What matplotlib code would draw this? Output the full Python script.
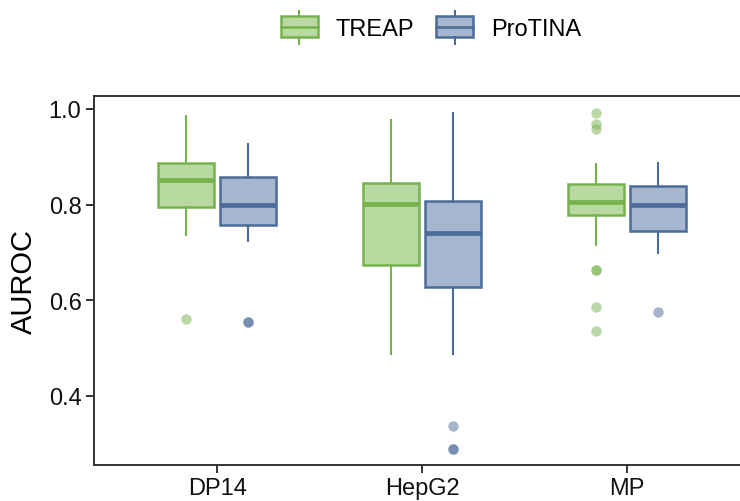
import numpy as np
import matplotlib.pyplot as plt
from matplotlib.legend_handler import HandlerBase
from matplotlib.patches import Rectangle
from matplotlib.lines import Line2D

plt.rcParams['font.family'] = ['Liberation Sans', 'DejaVu Sans']

# data (AUROC box summaries)
datasets = ['DP14', 'HepG2', 'MP']
methods = ['TREAP', 'ProTINA']

treap_whislo = [0.736, 0.487, 0.716]
treap_q1 = [0.795, 0.674, 0.778]
treap_med = [0.851, 0.802, 0.806]
treap_q3 = [0.887, 0.846, 0.842]
treap_whishi = [0.986, 0.976, 0.885]
treap_fliers = [[0.560], [], [0.992, 0.969, 0.958, 0.662, 0.662, 0.585, 0.536]]

protina_whislo = [0.723, 0.488, 0.698]
protina_q1 = [0.758, 0.628, 0.744]
protina_med = [0.800, 0.740, 0.799]
protina_q3 = [0.857, 0.807, 0.839]
protina_whishi = [0.927, 0.991, 0.886]
protina_fliers = [[0.555, 0.555], [0.337, 0.288, 0.288], [0.575]]

edge_colors = ['#76b24e', '#4b6b98']
fill_colors = ['#b8d99f', '#a6b6ce']


def make_stats(lo, q1, med, q3, hi, fl):
    return [dict(whislo=a, q1=b, med=c, q3=d, whishi=e, fliers=f)
            for a, b, c, d, e, f in zip(lo, q1, med, q3, hi, fl)]


stats = [
    make_stats(treap_whislo, treap_q1, treap_med, treap_q3, treap_whishi, treap_fliers),
    make_stats(protina_whislo, protina_q1, protina_med, protina_q3, protina_whishi, protina_fliers),
]

fig = plt.figure(figsize=(7.4, 5.02), dpi=100)
ax = fig.add_axes([94 / 740, 36 / 502, 1 - 94 / 740, 369 / 502])

x = np.arange(len(datasets))
offsets = [-0.151, 0.151]
for i in range(2):
    ax.bxp(stats[i], positions=x + offsets[i], widths=0.272, patch_artist=True,
           showcaps=False,
           boxprops=dict(facecolor=fill_colors[i], edgecolor=edge_colors[i], linewidth=1.8),
           medianprops=dict(color=edge_colors[i], linewidth=3.4, solid_capstyle='butt'),
           whiskerprops=dict(color=edge_colors[i], linewidth=1.5),
           flierprops=dict(marker='o', markersize=7.5, markerfacecolor=edge_colors[i],
                           markeredgecolor='none', alpha=0.5))

ax.set_xlim(-0.601, 2.551)
ax.set_ylim(0.255, 1.027)
ax.set_xticks(x)
ax.set_xticklabels(datasets, fontsize=17)
ax.set_yticks([0.4, 0.6, 0.8, 1.0])
ax.set_yticklabels(['0.4', '0.6', '0.8', '1.0'], fontsize=17)
ax.set_ylabel('AUROC', fontsize=21, labelpad=8)
ax.tick_params(length=6, width=1.4, color='#333333', labelcolor='#111111', pad=3)
for s in ax.spines.values():
    s.set_linewidth(1.4)
    s.set_color('#333333')
ax.spines['right'].set_visible(False)


class BoxHandler(HandlerBase):
    def __init__(self, face, edge):
        super().__init__()
        self.face = face
        self.edge = edge

    def create_artists(self, legend, orig_handle, xdescent, ydescent, width, height, fontsize, trans):
        x0 = -xdescent
        y0 = -ydescent
        cx = x0 + width / 2
        rect = Rectangle((x0, y0), width, height, facecolor=self.face, edgecolor=self.edge,
                         linewidth=1.8, transform=trans)
        mid = Line2D([x0, x0 + width], [y0 + height / 2] * 2, color=self.edge, linewidth=1.8,
                     transform=trans)
        top = Line2D([cx, cx], [y0 + height, y0 + height * 1.25], color=self.edge,
                     linewidth=1.5, transform=trans)
        bot = Line2D([cx, cx], [y0, y0 - height * 0.35], color=self.edge,
                     linewidth=1.5, transform=trans)
        return [rect, mid, top, bot]


h1 = Rectangle((0, 0), 1, 1)
h2 = Rectangle((0, 0), 1, 1)
fig.legend([h1, h2], methods, loc='center', bbox_to_anchor=(431 / 740, 1 - 29 / 502),
           ncol=2, frameon=False, fontsize=17, handlelength=1.55, handleheight=0.95,
           columnspacing=0.95, handletextpad=0.75, borderpad=0.2,
           handler_map={h1: BoxHandler(fill_colors[0], edge_colors[0]),
                        h2: BoxHandler(fill_colors[1], edge_colors[1])})

fig.savefig('out.png', dpi=100)
